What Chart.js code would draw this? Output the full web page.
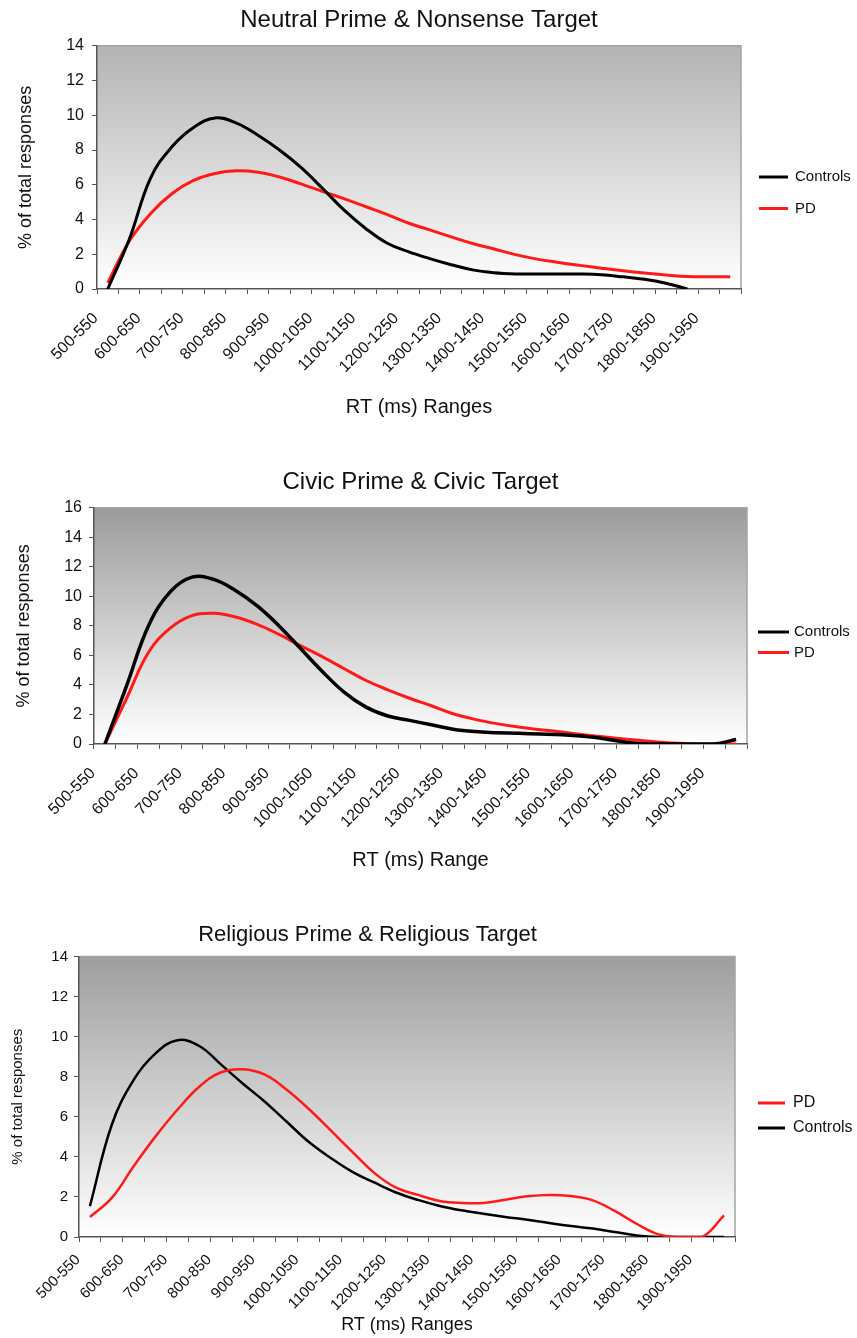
<!DOCTYPE html>
<html>
<head>
<meta charset="utf-8">
<title>RT distributions</title>
<script src="https://cdn.jsdelivr.net/npm/chart.js@4.4.1/dist/chart.umd.min.js"></script>
<style>
  body { margin: 0; background: #fff; }
  .page { position: relative; width: 857px; height: 1338px; }
  .panel { position: absolute; left: 0; width: 857px; }
</style>
</head>
<body>
<div class="page">
  <div class="panel" style="top:0;height:450px"><canvas id="neutral"></canvas></div>
  <div class="panel" style="top:450px;height:445px"><canvas id="civic"></canvas></div>
  <div class="panel" style="top:895px;height:443px"><canvas id="religious"></canvas></div>
</div>
<script>
// === DATA ===
const rtRanges = [
    "500-550", "550-600", "600-650", "650-700", "700-750", "750-800",
    "800-850", "850-900", "900-950", "950-1000", "1000-1050", "1050-1100",
    "1100-1150", "1150-1200", "1200-1250", "1250-1300", "1300-1350", "1350-1400",
    "1400-1450", "1450-1500", "1500-1550", "1550-1600", "1600-1650", "1650-1700",
    "1700-1750", "1750-1800", "1800-1850", "1850-1900", "1900-1950", "1950-2000"
];

// Neutral Prime & Nonsense Target
const neutralControls = [0, 2.85, 6.4, 8.2, 9.3, 9.85, 9.55, 8.85, 8.0, 7.0, 5.8, 4.55, 3.5, 2.65, 2.15,
    1.75, 1.4, 1.1, 0.94, 0.87, 0.86, 0.86, 0.86, 0.82, 0.7, 0.56, 0.33, 0, null, null];
const neutralPD = [0.35, 2.75, 4.35, 5.5, 6.25, 6.65, 6.8, 6.72, 6.45, 6.05, 5.62, 5.2, 4.75, 4.3, 3.8,
    3.4, 3.0, 2.62, 2.3, 1.98, 1.72, 1.53, 1.36, 1.2, 1.05, 0.92, 0.81, 0.72, 0.7, 0.7];

// Civic Prime & Civic Target
const civicControls = [0, 3.95, 8.0, 10.3, 11.3, 11.15, 10.4, 9.35, 8.0, 6.45, 4.9, 3.5, 2.5, 1.9, 1.6,
    1.3, 1.0, 0.84, 0.77, 0.72, 0.68, 0.63, 0.52, 0.34, 0.11, 0, 0, 0, 0, 0.3];
const civicPD = [0, 3.1, 6.2, 7.85, 8.7, 8.85, 8.6, 8.1, 7.42, 6.65, 5.9, 5.1, 4.3, 3.67, 3.1,
    2.59, 2.05, 1.67, 1.38, 1.15, 0.97, 0.81, 0.63, 0.47, 0.32, 0.18, 0.07, 0, 0, 0];

// Religious Prime & Religious Target
const religiousPD = [1.0, 1.95, 3.53, 5.02, 6.35, 7.5, 8.22, 8.37, 8.1, 7.35, 6.4, 5.33, 4.25, 3.2, 2.46,
    2.1, 1.8, 1.7, 1.7, 1.86, 2.03, 2.1, 2.04, 1.83, 1.3, 0.66, 0.13, 0, 0, 1.08];
const religiousControls = [1.54, 5.6, 7.84, 9.16, 9.82, 9.53, 8.6, 7.65, 6.75, 5.75, 4.75, 3.95, 3.25, 2.72, 2.22,
    1.85, 1.55, 1.33, 1.16, 1.0, 0.86, 0.7, 0.55, 0.42, 0.25, 0.08, 0, 0, 0, 0];

const FONT = "'Liberation Sans', Arial, sans-serif";
const INK = "#111";

// === PLUGINS ===
// gradient plot area like the Excel original, with grey top/right frame
const plotBackground = {
    id: "plotBackground",
    beforeDraw(chart, args, opts) {
        const { ctx, chartArea: a } = chart;
        const g = ctx.createLinearGradient(0, a.top, 0, a.bottom);
        g.addColorStop(0, opts.top);
        g.addColorStop(1, "#ffffff");
        ctx.save();
        ctx.fillStyle = g;
        ctx.fillRect(a.left, a.top, a.width, a.height);
        ctx.strokeStyle = "#a4a4a4";
        ctx.lineWidth = 1.5;
        ctx.beginPath();
        ctx.moveTo(a.left, a.top);
        ctx.lineTo(a.right, a.top);
        ctx.lineTo(a.right, a.bottom);
        ctx.stroke();
        ctx.restore();
    }
};

// legend sitting to the right of the plot
const sideLegend = {
    id: "sideLegend",
    afterDraw(chart, args, opts) {
        const ctx = chart.ctx;
        ctx.save();
        ctx.font = opts.size + "px " + FONT;
        ctx.textBaseline = "middle";
        ctx.fillStyle = INK;
        chart.data.datasets.forEach((ds, i) => {
            const y = opts.y + i * opts.gap;
            ctx.strokeStyle = ds.borderColor;
            ctx.lineWidth = 3;
            ctx.beginPath();
            ctx.moveTo(opts.x, y);
            ctx.lineTo(opts.x + opts.lineLength, y);
            ctx.stroke();
            ctx.fillText(ds.label, opts.x + opts.lineLength + opts.textGap, y);
        });
        ctx.restore();
    }
};

function series(label, data, color, width) {
    return {
        label, data,
        borderColor: color,
        borderWidth: width,
        pointRadius: 0,
        tension: 0.4,
        fill: false
    };
}

function buildChart(id, s) {
    new Chart(document.getElementById(id), {
        type: "line",
        data: { labels: rtRanges, datasets: s.datasets },
        options: {
            responsive: true,
            maintainAspectRatio: false,
            animation: false,
            events: [],
            layout: { padding: { left: 0, right: s.padRight, top: 0, bottom: 0 } },
            plugins: {
                legend: { display: false },
                tooltip: { enabled: false },
                title: {
                    display: true,
                    text: s.title,
                    fullSize: s.titleFullSize,
                    color: INK,
                    font: { family: FONT, size: s.titleSize, weight: "normal" },
                    padding: { top: s.titleTop, bottom: s.titleBottom }
                },
                plotBackground: { top: s.shade },
                sideLegend: s.legend
            },
            scales: {
                x: {
                    offset: true,
                    afterFit: scale => { scale.height = s.xHeight; },
                    grid: { offset: true, drawOnChartArea: false, tickLength: 5, color: "#555", lineWidth: 1 },
                    border: { color: "#555", width: 1.5 },
                    ticks: {
                        autoSkip: false,
                        minRotation: 45,
                        maxRotation: 45,
                        labelOffset: -12,
                        padding: s.xPad,
                        color: INK,
                        font: { family: FONT, size: s.tickSize },
                        callback: (v, i) => (i % 2 === 0 ? rtRanges[i] : "")
                    },
                    title: {
                        display: true,
                        text: s.xTitle,
                        color: INK,
                        font: { family: FONT, size: s.xTitleSize },
                        padding: { top: 0, bottom: s.xTitleBottom }
                    }
                },
                y: {
                    min: 0,
                    max: s.yMax,
                    afterFit: scale => { scale.width = s.yWidth; },
                    grid: { drawOnChartArea: false, tickLength: 5, color: "#555", lineWidth: 1 },
                    border: { color: "#555", width: 1.5 },
                    ticks: {
                        stepSize: 2,
                        padding: s.yPad,
                        color: INK,
                        font: { family: FONT, size: s.tickSize }
                    },
                    title: {
                        display: true,
                        text: "% of total responses",
                        color: INK,
                        font: { family: FONT, size: s.yTitleSize },
                        padding: { top: s.yTitleLeft, bottom: 0 }
                    }
                }
            }
        },
        plugins: [plotBackground, sideLegend]
    });
}

buildChart("neutral", {
    title: "Neutral Prime & Nonsense Target",
    datasets: [series("Controls", neutralControls, "#000000", 3), series("PD", neutralPD, "#ff1a1a", 3)],
    yMax: 14, shade: "#b3b3b3",
    padRight: 116, yWidth: 97, xHeight: 161,
    titleFullSize: false, titleSize: 24, titleTop: 6, titleBottom: 11,
    tickSize: 16, xPad: 15, yPad: 8,
    xTitle: "RT (ms) Ranges", xTitleSize: 20, xTitleBottom: 31,
    yTitleSize: 18, yTitleLeft: 15,
    legend: { x: 759, y: 177, gap: 31.5, lineLength: 29, textGap: 7, size: 15 }
});

buildChart("civic", {
    title: "Civic Prime & Civic Target",
    datasets: [series("Controls", civicControls, "#000000", 3.5), series("PD", civicPD, "#ff1a1a", 3)],
    yMax: 16, shade: "#9b9b9b",
    padRight: 110, yWidth: 94, xHeight: 151,
    titleFullSize: false, titleSize: 24, titleTop: 17.5, titleBottom: 11.5,
    tickSize: 16, xPad: 15, yPad: 7,
    xTitle: "RT (ms) Range", xTitleSize: 20, xTitleBottom: 23,
    yTitleSize: 18, yTitleLeft: 13,
    legend: { x: 758, y: 182, gap: 20.5, lineLength: 31, textGap: 5, size: 15 }
});

buildChart("religious", {
    title: "Religious Prime & Religious Target",
    datasets: [series("PD", religiousPD, "#ff1a1a", 2.5), series("Controls", religiousControls, "#000000", 2.5)],
    yMax: 14, shade: "#9e9e9e",
    padRight: 122, yWidth: 79, xHeight: 101,
    titleFullSize: true, titleSize: 22, titleTop: 27, titleBottom: 8,
    tickSize: 15, xPad: 9, yPad: 6,
    xTitle: "RT (ms) Ranges", xTitleSize: 18, xTitleBottom: 2,
    yTitleSize: 15, yTitleLeft: 9,
    legend: { x: 758, y: 208, gap: 25, lineLength: 27, textGap: 8, size: 16 }
});
</script>
</body>
</html>
